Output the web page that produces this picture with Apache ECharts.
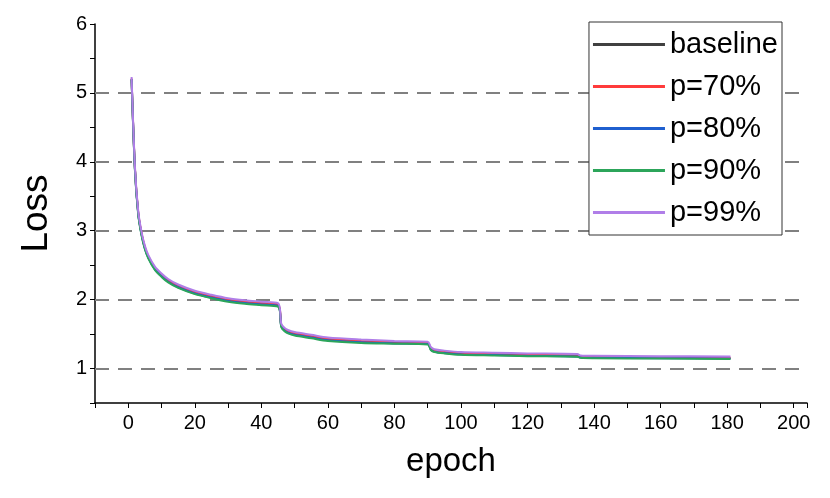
<!DOCTYPE html>
<html><head><meta charset="utf-8">
<script src="https://cdn.jsdelivr.net/npm/echarts@6/dist/echarts.min.js"></script>
<style>html,body{margin:0;padding:0;background:#fff}#c{width:830px;height:498px}</style>
</head><body><div id="c"></div>
<script>
const epochs = [1,2,3,4,5,6,8,10,12,15,20,25,30,35,40,45,46,47,48,50,55,60,70,80,90,91,92,95,100,110,120,135,136,140,160,181];
const baseline = [5.20,3.90,3.25,2.95,2.75,2.62,2.45,2.35,2.27,2.19,2.10,2.04,1.99,1.96,1.94,1.92,1.62,1.56,1.53,1.50,1.46,1.42,1.39,1.37,1.36,1.28,1.25,1.23,1.21,1.20,1.19,1.18,1.165,1.16,1.155,1.15];
const p70 = [5.21,3.91,3.26,2.96,2.76,2.63,2.46,2.36,2.28,2.20,2.11,2.05,2.00,1.97,1.95,1.93,1.63,1.57,1.54,1.51,1.47,1.43,1.40,1.38,1.37,1.29,1.26,1.24,1.22,1.21,1.20,1.19,1.17,1.165,1.16,1.155];
const p80 = [5.20,3.89,3.24,2.94,2.74,2.61,2.44,2.34,2.26,2.18,2.09,2.03,1.98,1.95,1.93,1.91,1.61,1.55,1.52,1.49,1.45,1.41,1.38,1.365,1.355,1.27,1.245,1.225,1.205,1.195,1.185,1.175,1.16,1.155,1.15,1.145];
const p90 = [5.19,3.88,3.23,2.93,2.73,2.60,2.43,2.33,2.25,2.17,2.08,2.02,1.97,1.94,1.92,1.90,1.60,1.54,1.51,1.48,1.44,1.40,1.37,1.36,1.35,1.265,1.24,1.22,1.20,1.19,1.18,1.17,1.155,1.15,1.145,1.14];
const p99 = [5.23,3.93,3.28,2.98,2.78,2.65,2.48,2.38,2.30,2.22,2.13,2.07,2.02,1.99,1.97,1.95,1.65,1.59,1.56,1.53,1.49,1.45,1.42,1.40,1.39,1.31,1.28,1.26,1.24,1.23,1.22,1.21,1.19,1.185,1.18,1.175];
const gridLevels = [1,2,3,4,5];
const names = ['baseline','p=70%','p=80%','p=90%','p=99%'];
const colors = ['#404040','#ff3b3b','#1f5fcf','#2ca55a','#b07ee8'];
const all = [baseline,p70,p80,p90,p99];
const ch = echarts.init(document.getElementById('c'));
const F = 'Liberation Sans';
ch.setOption({
  animation:false,
  grid:{left:95,right:23,top:24,bottom:95},
  legend:{right:48,top:22,orient:'vertical',itemWidth:72,itemHeight:3,itemGap:13,
    icon:'rect',borderColor:'#333',borderWidth:1,padding:[8,4,8,4],backgroundColor:'#fff',
    textStyle:{fontSize:29,color:'#000',fontFamily:F},data:names},
  xAxis:{type:'value',min:-10,max:204,interval:10,name:'epoch',nameLocation:'middle',nameGap:42,
    nameTextStyle:{fontSize:33,color:'#000',fontFamily:F},
    axisLine:{onZero:false,lineStyle:{color:'#000',width:1.5}},axisTick:{lineStyle:{color:'#000'},length:5},
    axisLabel:{fontSize:20,color:'#000',fontFamily:F,margin:10,formatter:v=>v%20===0?v:''},
    splitLine:{show:false}},
  yAxis:{type:'value',min:0.5,max:6,interval:0.5,name:'Loss',nameLocation:'middle',nameGap:40,
    nameTextStyle:{fontSize:37,color:'#000',fontFamily:F},
    axisLine:{show:true,onZero:false,lineStyle:{color:'#000',width:1.5}},axisTick:{show:true,lineStyle:{color:'#000'},length:5},
    axisLabel:{fontSize:20,color:'#000',fontFamily:F,formatter:v=>Number.isInteger(v)?v:''},
    splitLine:{show:false}},
  series:names.map((n,i)=>({name:n,type:'line',showSymbol:false,smooth:0.3,z:3,
    data:epochs.map((e,j)=>[e,all[i][j]]),lineStyle:{color:colors[i],width:2},itemStyle:{color:colors[i]},
    markLine:i===0?{silent:true,symbol:'none',label:{show:false},z:1,
      lineStyle:{color:'#808080',type:[14,9],width:2},data:gridLevels.map(v=>({yAxis:v}))}:undefined}))
});
</script></body></html>
